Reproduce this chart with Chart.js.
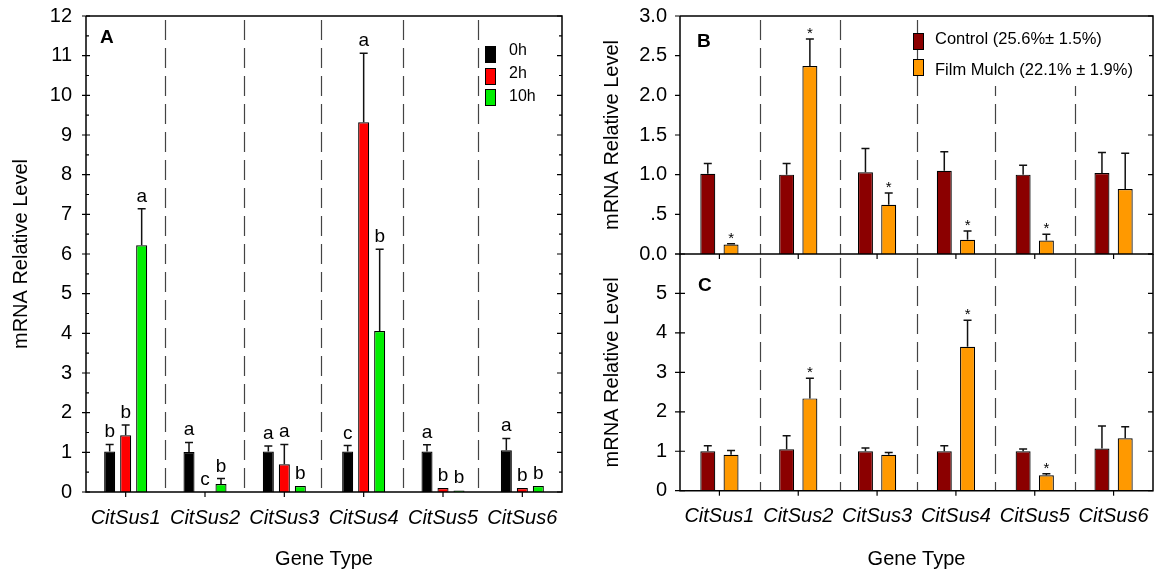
<!DOCTYPE html>
<html>
<head>
<meta charset="utf-8">
<script src="https://cdn.jsdelivr.net/npm/chart.js@4.4.1/dist/chart.umd.min.js"></script>
<style>
  body { margin: 0; background: #fff; width: 1155px; height: 573px; position: relative; overflow: hidden; }
  canvas { position: absolute; }
  #chartA { left: 0; top: 0; }
  #chartB { left: 575px; top: 0; }
  #chartC { left: 575px; top: 234px; }
</style>
</head>
<body>
<canvas id="chartA" width="575" height="573"></canvas>
<canvas id="chartB" width="580" height="270"></canvas>
<canvas id="chartC" width="580" height="339"></canvas>
<script>
const genes = ["CitSus1", "CitSus2", "CitSus3", "CitSus4", "CitSus5", "CitSus6"];

// Panel A: time course (0h, 2h, 10h)
const a0h = [1.02, 1.01, 1.02, 1.02, 1.02, 1.05];
const a0hErr = [0.18, 0.24, 0.14, 0.15, 0.17, 0.30];
const a0hSig = ["b", "a", "a", "c", "a", "a"];
const a2h = [1.43, 0, 0.70, 9.32, 0.10, 0.10];
const a2hErr = [0.26, 0, 0.50, 1.74, 0, 0];
const a2hSig = ["b", "c", "a", "a", "b", "b"];
const a10h = [6.22, 0.20, 0.15, 4.06, 0.04, 0.15];
const a10hErr = [0.92, 0.14, 0, 2.06, 0, 0];
const a10hSig = ["a", "b", "b", "b", "b", "b"];

// Panel B: control vs film mulch
const bControl = [1.01, 1.00, 1.03, 1.05, 1.00, 1.02];
const bControlErr = [0.13, 0.14, 0.30, 0.24, 0.12, 0.26];
const bMulch = [0.12, 2.37, 0.62, 0.18, 0.17, 0.82];
const bMulchErr = [0.01, 0.34, 0.15, 0.11, 0.08, 0.45];
const bMulchSig = ["*", "*", "*", "*", "*", ""];

// Panel C: control vs film mulch
const cControl = [1.00, 1.05, 1.00, 1.00, 1.00, 1.07];
const cControlErr = [0.14, 0.34, 0.08, 0.14, 0.06, 0.57];
const cMulch = [0.91, 2.34, 0.91, 3.65, 0.39, 1.33];
const cMulchErr = [0.11, 0.51, 0.06, 0.67, 0.04, 0.29];
const cMulchSig = ["", "*", "", "*", "*", ""];

// dashed separators, in category units
const dividersA = [0.5, 1.49, 2.46, 3.49, 4.44];
const dividersBC = [0.51, 1.53, 2.51, 3.5, 4.51];

const FONT = "'Liberation Sans', Arial, sans-serif";
Chart.defaults.font.family = FONT;
Chart.defaults.color = "#000";

// dashed lines, error bars, letters, frame, ticks, legend
const decor = {
  id: "decor",
  beforeDatasetsDraw(chart, args, o) {
    const { ctx, chartArea: a, scales: { x } } = chart;
    ctx.save();
    ctx.strokeStyle = "#444";
    ctx.lineWidth = 1.2;
    ctx.setLineDash([20, 8]);
    o.dividers.forEach(d => {
      const px = Math.round(x.getPixelForValue(d)) + 0.5;
      ctx.beginPath();
      ctx.moveTo(px, a.top + 4);
      ctx.lineTo(px, a.bottom);
      ctx.stroke();
    });
    ctx.restore();
  },
  afterDatasetsDraw(chart, args, o) {
    const { ctx, chartArea: a, scales: { x, y } } = chart;
    ctx.save();

    // error bars and significance marks
    ctx.strokeStyle = "#111";
    ctx.fillStyle = "#000";
    ctx.textAlign = "center";
    ctx.textBaseline = "alphabetic";
    ctx.font = o.markFont;
    chart.data.datasets.forEach((ds, i) => {
      chart.getDatasetMeta(i).data.forEach((bar, j) => {
        const v = ds.data[j], e = ds.err[j];
        const top = y.getPixelForValue(v + e);
        if (e > 0) {
          ctx.lineWidth = 1.5;
          ctx.beginPath();
          ctx.moveTo(bar.x, bar.y);
          ctx.lineTo(bar.x, top);
          ctx.moveTo(bar.x - 4, top);
          ctx.lineTo(bar.x + 4, top);
          ctx.stroke();
        }
        const m = ds.marks && ds.marks[j];
        if (m) ctx.fillText(m, bar.x, Math.min(top, bar.y) - o.markGap);
      });
    });

    // frame
    ctx.strokeStyle = "#000";
    ctx.lineWidth = 1.5;
    ctx.beginPath();
    ctx.moveTo(a.left, a.top);
    ctx.lineTo(a.left, a.bottom);
    ctx.lineTo(a.right, a.bottom);
    ctx.lineTo(a.right, a.top);
    if (o.topLine) ctx.lineTo(a.left, a.top);
    ctx.stroke();

    // y ticks
    ctx.lineWidth = 1.2;
    const t = o.ticks;
    for (let v = y.min; v <= y.max + 1e-9; v += t.minor) {
      const py = y.getPixelForValue(v);
      const major = Math.abs(v / t.major - Math.round(v / t.major)) < 1e-6;
      if (!major && !t.showMinor) continue;
      ctx.beginPath();
      if (major) {
        ctx.moveTo(a.left - t.out, py); ctx.lineTo(a.left + t.inn, py);
        ctx.moveTo(a.right - 5, py); ctx.lineTo(a.right, py);
      } else {
        ctx.moveTo(a.left, py); ctx.lineTo(a.left + 3, py);
        ctx.moveTo(a.right - 3, py); ctx.lineTo(a.right, py);
      }
      ctx.stroke();
    }
    // x ticks
    genes.forEach((g, i) => {
      const px = x.getPixelForValue(i);
      ctx.beginPath();
      ctx.moveTo(px, a.bottom);
      ctx.lineTo(px, a.bottom + 5);
      ctx.stroke();
    });

    // legend
    if (o.legend) {
      const L = o.legend;
      if (L.box) {
        ctx.fillStyle = "#fff";
        ctx.fillRect(L.box[0], L.box[1], L.box[2], L.box[3]);
      }
      ctx.font = L.font;
      ctx.textAlign = "left";
      ctx.textBaseline = "middle";
      chart.data.datasets.forEach((ds, i) => {
        const cy = L.rows[i];
        ctx.fillStyle = ds.backgroundColor;
        ctx.fillRect(L.x, cy - 8, 10, 16);
        ctx.lineWidth = 1;
        ctx.strokeStyle = "#000";
        ctx.strokeRect(L.x + 0.5, cy - 7.5, 10, 16);
        ctx.fillStyle = "#000";
        ctx.fillText(ds.label, L.tx, L.textRows[i]);
      });
    }

    // panel letter
    ctx.font = "bold 19px " + FONT;
    ctx.textAlign = "left";
    ctx.textBaseline = "alphabetic";
    ctx.fillStyle = "#000";
    ctx.fillText(o.panel, o.panelX, o.panelY);
    ctx.restore();
  }
};

function xAxis(showLabels, height) {
  return {
    type: "category",
    grid: { display: false, drawTicks: false },
    border: { display: false },
    ticks: { display: showLabels, font: { size: 20, style: "italic" }, padding: 14, maxRotation: 0, autoSkip: false },
    title: { display: showLabels, text: "Gene Type", font: { size: 20 }, padding: { top: 0, bottom: 2 } },
    afterFit(s) { s.height = height; s.paddingLeft = 0; s.paddingRight = 0; }
  };
}

function yAxis(max, step, width, pad, titlePad, cb) {
  return {
    min: 0, max: max,
    grid: { display: false, drawTicks: false },
    border: { display: false },
    ticks: { stepSize: step, font: { size: 20 }, padding: pad, callback: cb },
    title: { display: true, text: "mRNA Relative Level", font: { size: 20 }, padding: { top: titlePad, bottom: 0 } },
    afterFit(s) { s.width = width; s.paddingTop = 0; s.paddingBottom = 0; }
  };
}

function barSet(label, data, err, marks, color) {
  return { label, data, err, marks, backgroundColor: color, borderColor: "#000", borderWidth: 1.2 };
}

// Panel A
new Chart(document.getElementById("chartA"), {
  type: "bar",
  data: {
    labels: genes,
    datasets: [
      barSet("0h", a0h, a0hErr, a0hSig, "#000000"),
      barSet("2h", a2h, a2hErr, a2hSig, "#ff0000"),
      barSet("10h", a10h, a10hErr, a10hSig, "#00ee00")
    ]
  },
  options: {
    responsive: false, animation: false,
    categoryPercentage: 0.605, barPercentage: 0.69,
    layout: { padding: { top: 16, right: 13, left: 0, bottom: 0 } },
    scales: {
      x: xAxis(true, 81),
      y: yAxis(12, 1, 86, 14, 9, v => v)
    },
    plugins: {
      legend: { display: false }, tooltip: { enabled: false },
      decor: {
        dividers: dividersA, topLine: true,
        markFont: "19px " + FONT, markGap: 7,
        ticks: { major: 1, minor: 0.5, showMinor: true, out: 4, inn: 4 },
        legend: { x: 485, tx: 509, rows: [54, 76, 97], textRows: [51, 74, 97], font: "16px " + FONT },
        panel: "A", panelX: 100, panelY: 43
      }
    }
  },
  plugins: [decor]
});

// Panel B
new Chart(document.getElementById("chartB"), {
  type: "bar",
  data: {
    labels: genes,
    datasets: [
      barSet("Control (25.6%\u00b1 1.5%)", bControl, bControlErr, null, "#8b0000"),
      barSet("Film Mulch (22.1% \u00b1 1.9%)", bMulch, bMulchErr, bMulchSig, "#ff9900")
    ]
  },
  options: {
    responsive: false, animation: false,
    categoryPercentage: 0.59, barPercentage: 0.644,
    layout: { padding: { top: 16, right: 2, left: 0, bottom: 0 } },
    scales: {
      x: xAxis(false, 16),
      y: yAxis(3, 0.5, 105, 13, 25, v => v === 0.5 ? ".5" : v.toFixed(1))
    },
    plugins: {
      legend: { display: false }, tooltip: { enabled: false },
      decor: {
        dividers: dividersBC, topLine: true,
        markFont: "15px " + FONT, markGap: 1,
        ticks: { major: 0.5, minor: 0.5, showMinor: false, out: 5, inn: 0 },
        legend: { x: 338, tx: 360, rows: [41, 67], textRows: [39, 70], font: "16.5px " + FONT, box: [352, 17, 222, 69] },
        panel: "B", panelX: 122, panelY: 47
      }
    }
  },
  plugins: [decor]
});

// Panel C
new Chart(document.getElementById("chartC"), {
  type: "bar",
  data: {
    labels: genes,
    datasets: [
      barSet("Control", cControl, cControlErr, null, "#8b0000"),
      barSet("Film Mulch", cMulch, cMulchErr, cMulchSig, "#ff9900")
    ]
  },
  options: {
    responsive: false, animation: false,
    categoryPercentage: 0.59, barPercentage: 0.644,
    layout: { padding: { top: 20, right: 2, left: 0, bottom: 0 } },
    scales: {
      x: xAxis(true, 82.3),
      y: yAxis(6, 1, 105, 13, 25, v => v === 6 ? "" : v)
    },
    plugins: {
      legend: { display: false }, tooltip: { enabled: false },
      decor: {
        dividers: dividersBC, topLine: false,
        markFont: "15px " + FONT, markGap: 1,
        ticks: { major: 1, minor: 1, showMinor: false, out: 5, inn: 5 },
        legend: null,
        panel: "C", panelX: 123, panelY: 57
      }
    }
  },
  plugins: [decor]
});
</script>
</body>
</html>
